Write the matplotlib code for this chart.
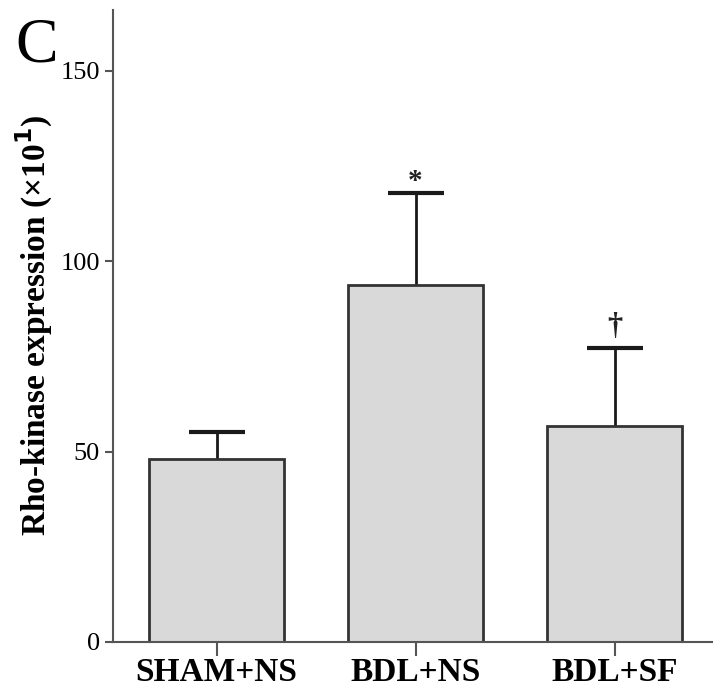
import matplotlib
matplotlib.use("Agg")
import matplotlib.pyplot as plt

# Données
groupes = ["SHAM+NS", "BDL+NS", "BDL+SF"]
moyennes = [48, 93.7, 56.8]
erreurs = [7, 24.2, 20.3]
marques = ["", "*", "†"]

plt.rcParams["font.family"] = ["Liberation Serif", "DejaVu Serif"]

fig = plt.figure(figsize=(7.2, 7.0), dpi=100)
ax = fig.add_axes([0.157, 0.083, 0.832, 0.903])

x = range(len(groupes))
ax.bar(x, moyennes, width=0.68, color="#d9d9d9", edgecolor="#333333", linewidth=2, zorder=2)
_, caps, _ = ax.errorbar(x, moyennes, yerr=[[0] * 3, erreurs], fmt="none", ecolor="#1a1a1a",
                         elinewidth=2, capsize=20, capthick=3, zorder=1)
caps[0].set_visible(False)  # pas de cap en bas

for i, (m, e, t) in enumerate(zip(moyennes, erreurs, marques)):
    if t == "*":
        ax.text(i, m + e - 0.5, t, ha="center", va="bottom", fontsize=21,
                fontweight="bold", color="#222222")
    elif t:
        ax.text(i, m + e + 2, t, ha="center", va="bottom", fontsize=22,
                fontweight="bold", color="#222222")

ax.set_xlim(-0.52, 2.49)
ax.set_ylim(0, 166)
ax.set_yticks([0, 50, 100, 150])
ax.set_xticks(list(x))
ax.set_xticklabels(groupes, fontsize=24, fontweight="bold")
ax.tick_params(axis="y", labelsize=19, length=6, width=1.5, color="#555555")
ax.tick_params(axis="x", length=10, width=1.5, color="#555555", pad=1)
for s in ["top", "right"]:
    ax.spines[s].set_visible(False)
for s in ["left", "bottom"]:
    ax.spines[s].set_color("#555555")
    ax.spines[s].set_linewidth(1.5)

ax.set_ylabel("Rho-kinase expression (×10$^\\mathbf{1}$)", fontsize=24, fontweight="bold", labelpad=4)
fig.text(0.022, 0.975, "C", fontsize=46, va="top", ha="left")

fig.savefig("out.png", dpi=100)
